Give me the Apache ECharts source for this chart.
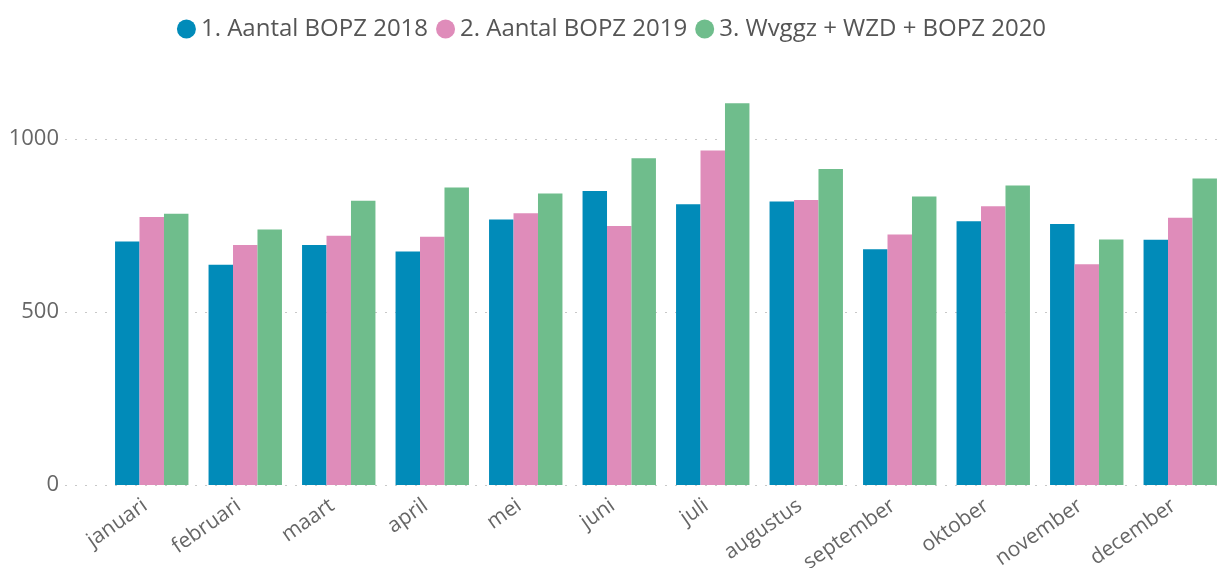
<!DOCTYPE html>
<html>
<head>
<meta charset="utf-8">
<script src="https://cdn.jsdelivr.net/npm/echarts@6/dist/echarts.min.js"></script>
<style>
  html, body { margin: 0; padding: 0; background: #fff; }
  #chart { width: 1223px; height: 568px; }
</style>
</head>
<body>
<div id="chart"></div>
<script>
// maanden
var months = ['januari', 'februari', 'maart', 'april', 'mei', 'juni', 'juli', 'augustus', 'september', 'oktober', 'november', 'december']
var seriesNames = ['1. Aantal BOPZ 2018', '2. Aantal BOPZ 2019', '3. Wvggz + WZD + BOPZ 2020']
var bopz2018 = [704, 637, 694, 675, 768, 850, 812, 820, 682, 763, 755, 709]
var bopz2019 = [775, 694, 721, 718, 786, 749, 967, 824, 724, 806, 638, 773]
var wvggz2020 = [784, 739, 822, 860, 843, 945, 1104, 914, 834, 866, 710, 886]
var yTicks = [0, 500, 1000]

var colors = ['#018bb9', '#df8cba', '#6fbd8c']
var font = '"Open Sans", "Noto Sans", sans-serif'

var chart = echarts.init(document.getElementById('chart'))

function bar (name, data, i) {
  return {
    name: name,
    type: 'bar',
    xAxisIndex: 1,
    yAxisIndex: 1,
    data: data,
    barGap: 0,
    barCategoryGap: '21.5%',
    itemStyle: { color: colors[i] }
  }
}

chart.setOption({
  animation: false,
  legend: {
    top: 12,
    left: 'center',
    icon: 'circle',
    itemWidth: 19,
    itemHeight: 19,
    itemGap: 8,
    textStyle: { fontFamily: font, fontSize: 24, color: '#555' },
    data: seriesNames
  },
  grid: [
    // achtergrond met rasterlijnen
    { left: 65, right: 0, top: 70, bottom: 83, outerBoundsMode: 'none' },
    // staven
    { left: 105, width: 1122, top: 70, bottom: 83, outerBoundsMode: 'none' }
  ],
  xAxis: [
    { gridIndex: 0, type: 'value', show: false, min: 0, max: 1 },
    {
      gridIndex: 1,
      type: 'category',
      data: months,
      axisLine: { show: false },
      axisTick: { show: false },
      axisLabel: {
        rotate: 35,
        margin: 14,
        padding: [0, 8, 0, 0],
        fontFamily: font,
        fontSize: 21,
        color: '#666'
      }
    }
  ],
  yAxis: [
    {
      gridIndex: 0,
      type: 'value',
      min: 0,
      max: 1200,
      interval: 500,
      axisLine: { show: false },
      axisTick: { show: false },
      axisLabel: {
        margin: 6,
        fontFamily: font,
        fontSize: 22,
        color: '#666',
        formatter: function (v) { return yTicks.indexOf(v) >= 0 ? String(v) : '' }
      },
      splitLine: {
        lineStyle: {
          color: ['#c8c8c8', '#c8c8c8', '#c8c8c8', 'rgba(0,0,0,0)'],
          type: [2, 8],
          width: 1
        }
      }
    },
    { gridIndex: 1, type: 'value', min: 0, max: 1200, show: false, splitLine: { show: false } }
  ],
  series: [
    bar(seriesNames[0], bopz2018, 0),
    bar(seriesNames[1], bopz2019, 1),
    bar(seriesNames[2], wvggz2020, 2)
  ]
})
</script>
</body>
</html>
